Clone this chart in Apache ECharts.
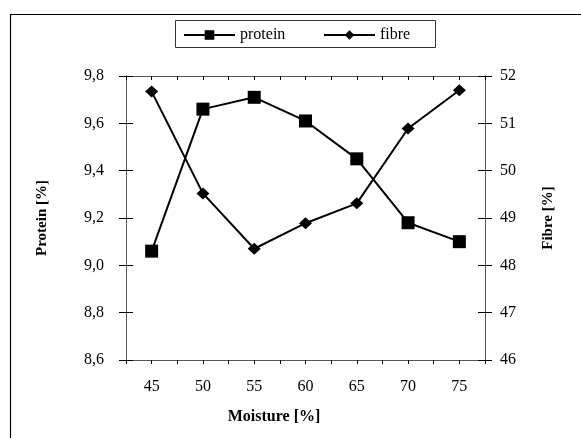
<!DOCTYPE html>
<html>
<head>
<meta charset="utf-8">
<script src="https://cdn.jsdelivr.net/npm/echarts@6/dist/echarts.min.js"></script>
<style>
html,body{margin:0;padding:0;background:#fff;}
#c{width:581px;height:438px;}
</style>
</head>
<body>
<div id="c"></div>
<script>
const moisture = [45, 50, 55, 60, 65, 70, 75];
const protein = [9.06, 9.66, 9.71, 9.61, 9.45, 9.18, 9.10];
const fibre = [51.67, 49.52, 48.35, 48.89, 49.31, 50.89, 51.70];
const seriesNames = ['protein', 'fibre'];
const titles = { x: 'Moisture [%]', yLeft: 'Protein [%]', yRight: 'Fibre [%]' };

const FONT = '"Liberation Serif", "Times New Roman", serif';
const chart = echarts.init(document.getElementById('c'), null, { renderer: 'canvas' });

const pair = (xs, ys) => xs.map((x, i) => [x, ys[i]]);
const axisLine = { show: true, lineStyle: { color: '#555', width: 1 } };
const tickStyle = { color: '#000', width: 1 };

const xBase = {
  type: 'value', min: 42.5, max: 77.5, interval: 2.5,
  axisLine: axisLine, splitLine: { show: false }
};
const yLeftBase = {
  type: 'value', position: 'left', min: 8.6, max: 9.8, interval: 0.2,
  axisLine: axisLine, splitLine: { show: false }
};
const yRightBase = {
  type: 'value', position: 'right', min: 46, max: 52, interval: 1,
  axisLine: axisLine, splitLine: { show: false }
};

chart.setOption({
  animation: false,
  backgroundColor: '#fff',
  grid: { left: 126, right: 96, top: 76, bottom: 78 },
  xAxis: [
    Object.assign({}, xBase, {
      axisTick: { show: true, length: 4, lineStyle: tickStyle },
      axisLabel: {
        margin: 19, fontFamily: FONT, fontSize: 16, color: '#000',
        formatter: v => (Math.abs(v % 5) < 1e-6 && v >= 45 && v <= 75) ? String(v) : ''
      }
    }),
    Object.assign({}, xBase, {
      axisTick: { show: true, inside: true, length: 4, lineStyle: tickStyle },
      axisLabel: { show: false }
    })
  ],
  yAxis: [
    Object.assign({}, yLeftBase, {
      axisTick: { show: true, length: 7, lineStyle: tickStyle },
      axisLabel: {
        margin: 22, fontFamily: FONT, fontSize: 16, color: '#000',
        formatter: v => v.toFixed(1).replace('.', ',')
      }
    }),
    Object.assign({}, yRightBase, {
      axisTick: { show: true, length: 7, lineStyle: tickStyle },
      axisLabel: {
        margin: 15, fontFamily: FONT, fontSize: 16, color: '#000',
        formatter: v => String(v)
      }
    }),
    Object.assign({}, yLeftBase, {
      axisTick: { show: true, inside: true, length: 7, lineStyle: tickStyle },
      axisLabel: { show: false }
    }),
    Object.assign({}, yRightBase, {
      axisTick: { show: true, inside: true, length: 7, lineStyle: tickStyle },
      axisLabel: { show: false }
    })
  ],
  legend: [
    {
      data: [seriesNames[0]], left: 183, top: 27, itemWidth: 51, itemHeight: 12, itemGap: 0,
      textStyle: { fontFamily: FONT, fontSize: 16, color: '#000', padding: [0, 0, 0, 0] },
      padding: 0
    },
    {
      data: [seriesNames[1]], left: 323, top: 27, itemWidth: 51, itemHeight: 12, itemGap: 0,
      textStyle: { fontFamily: FONT, fontSize: 16, color: '#000' },
      padding: 0
    }
  ],
  graphic: [
    { type: 'rect', silent: true, shape: { x: 10.5, y: 14.5, width: 620, height: 460 },
      style: { fill: 'none', stroke: '#000', lineWidth: 1.2 } },
    { type: 'rect', silent: true, shape: { x: 175.5, y: 20.5, width: 260, height: 27 },
      style: { fill: 'none', stroke: '#333', lineWidth: 1 } },
    { type: 'text', silent: true, x: 42, y: 218, rotation: Math.PI / 2,
      style: { text: titles.yLeft, fontFamily: FONT, fontSize: 15, fontWeight: 'bold', fill: '#000', align: 'center', verticalAlign: 'middle' } },
    { type: 'text', silent: true, x: 548, y: 218, rotation: Math.PI / 2,
      style: { text: titles.yRight, fontFamily: FONT, fontSize: 15, fontWeight: 'bold', fill: '#000', align: 'center', verticalAlign: 'middle' } },
    { type: 'text', silent: true, x: 274, y: 417,
      style: { text: titles.x, fontFamily: FONT, fontSize: 16, fontWeight: 'bold', fill: '#000', align: 'center', verticalAlign: 'middle' } }
  ],
  series: [
    {
      name: seriesNames[0], type: 'line', xAxisIndex: 0, yAxisIndex: 0,
      data: pair(moisture, protein),
      symbol: 'rect', symbolSize: 13,
      lineStyle: { color: '#000', width: 2 },
      itemStyle: { color: '#000' }
    },
    {
      name: seriesNames[1], type: 'line', xAxisIndex: 0, yAxisIndex: 1,
      data: pair(moisture, fibre),
      symbol: 'diamond', symbolSize: [13, 12],
      lineStyle: { color: '#000', width: 2 },
      itemStyle: { color: '#000' }
    }
  ]
});
</script>
</body>
</html>
